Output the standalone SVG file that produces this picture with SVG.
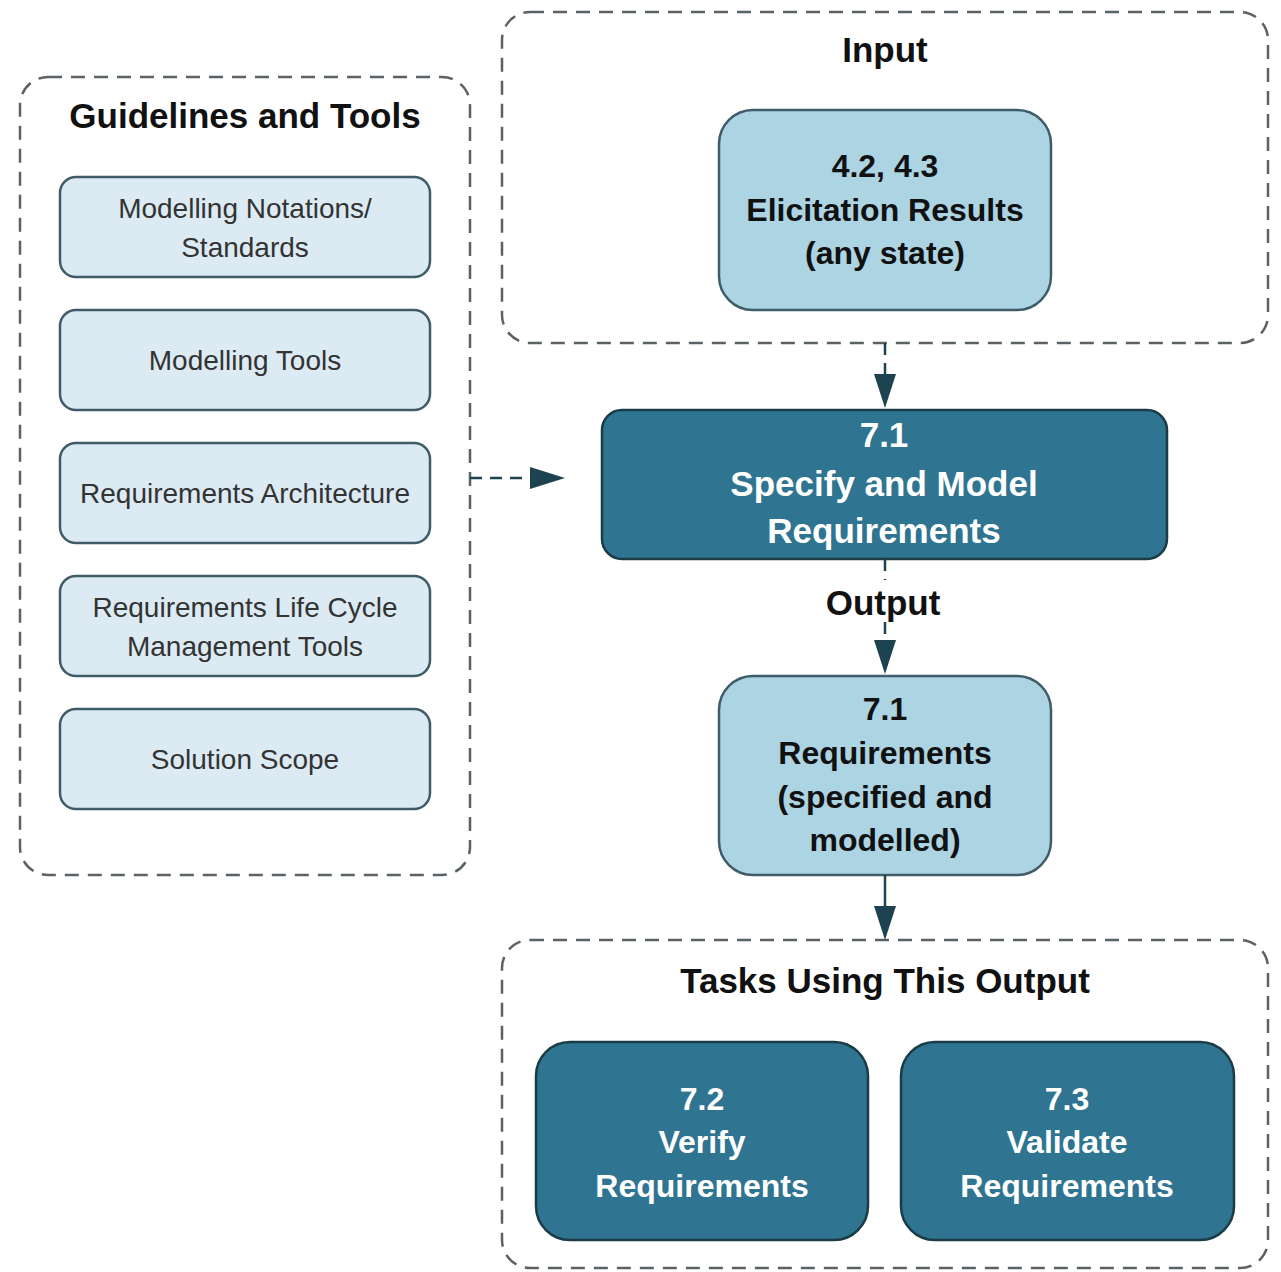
<svg xmlns="http://www.w3.org/2000/svg" width="1281" height="1272" viewBox="0 0 1281 1272">
<style>
.container{fill:none;stroke:#5a6266;stroke-width:2.5;stroke-dasharray:14 9}
.light{fill:#dcebf3;stroke:#3f5c68;stroke-width:2.5}
.mid{fill:#acd4e3;stroke:#3f5c68;stroke-width:2.5}
.dark{fill:#2f7591;stroke:#1b3c47;stroke-width:2.5}
.t{font-family:"Liberation Sans",Arial,sans-serif;text-anchor:middle}
.title{font-size:35px;font-weight:bold;fill:#111}
.reg{font-size:28px;fill:#333}
.bk{font-size:32px;font-weight:bold;fill:#111}
.wh{font-weight:bold;fill:#fff}
.conn{stroke:#1e4350;stroke-width:2.5;fill:none}
.dash{stroke-dasharray:12 8}
</style>
<defs>
<marker id="arr" markerWidth="10" markerHeight="10" refX="9" refY="5" orient="auto" markerUnits="userSpaceOnUse" viewBox="0 0 10 10">
<path d="M0,0 L10,5 L0,10 Z" fill="#1e4350"/>
</marker>
</defs>
<g id="guidelines">
<rect class="container" x="20" y="77" width="450" height="798" rx="28"/>
<text class="t title" x="245" y="128">Guidelines and Tools</text>
</g>
<g id="g1"><rect class="light" x="60" y="177" width="370" height="100" rx="16"/>
<text class="t reg" x="245" y="218">Modelling Notations/</text><text class="t reg" x="245" y="257">Standards</text></g>
<g id="g2"><rect class="light" x="60" y="310" width="370" height="100" rx="16"/>
<text class="t reg" x="245" y="370">Modelling Tools</text></g>
<g id="g3"><rect class="light" x="60" y="443" width="370" height="100" rx="16"/>
<text class="t reg" x="245" y="503">Requirements Architecture</text></g>
<g id="g4"><rect class="light" x="60" y="576" width="370" height="100" rx="16"/>
<text class="t reg" x="245" y="617">Requirements Life Cycle</text><text class="t reg" x="245" y="656">Management Tools</text></g>
<g id="g5"><rect class="light" x="60" y="709" width="370" height="100" rx="16"/>
<text class="t reg" x="245" y="769">Solution Scope</text></g>
<g id="input">
<rect class="container" x="502" y="12" width="766" height="331" rx="28"/>
<text class="t title" x="885" y="62">Input</text>
</g>
<g id="elicitation"><rect class="mid" x="719" y="110" width="332" height="200" rx="34"/>
<text class="t bk" x="885" y="177">4.2, 4.3</text>
<text class="t bk" x="885" y="221">Elicitation Results</text>
<text class="t bk" x="885" y="264">(any state)</text></g>
<g id="specify"><rect class="dark" x="602" y="410" width="565" height="149" rx="20"/>
<text class="t wh" style="font-size:35px" x="884" y="447">7.1</text>
<text class="t wh" style="font-size:35px" x="884" y="496">Specify and Model</text>
<text class="t wh" style="font-size:35px" x="884" y="543">Requirements</text></g>
<g id="outputlabel"><text class="t title" x="883" y="615">Output</text></g>
<g id="requirements"><rect class="mid" x="719" y="676" width="332" height="199" rx="34"/>
<text class="t bk" x="885" y="720">7.1</text>
<text class="t bk" x="885" y="764">Requirements</text>
<text class="t bk" x="885" y="808">(specified and</text>
<text class="t bk" x="885" y="851">modelled)</text></g>
<g id="tasks">
<rect class="container" x="502" y="940" width="766" height="328" rx="28"/>
<text class="t title" x="885" y="993">Tasks Using This Output</text>
</g>
<g id="verify"><rect class="dark" x="536" y="1042" width="332" height="198" rx="34"/>
<text class="t wh" style="font-size:32px" x="702" y="1110">7.2</text>
<text class="t wh" style="font-size:32px" x="702" y="1153">Verify</text>
<text class="t wh" style="font-size:32px" x="702" y="1197">Requirements</text></g>
<g id="validate"><rect class="dark" x="901" y="1042" width="333" height="198" rx="34"/>
<text class="t wh" style="font-size:32px" x="1067" y="1110">7.3</text>
<text class="t wh" style="font-size:32px" x="1067" y="1153">Validate</text>
<text class="t wh" style="font-size:32px" x="1067" y="1197">Requirements</text></g>
<g id="connectors">
<line class="conn dash" x1="885" y1="343" x2="885" y2="376"/>
<path d="M874,374 L896,374 L885,408 Z" fill="#1e4350"/>
<line class="conn dash" x1="470" y1="478" x2="530" y2="478"/>
<path d="M530,467 L565,478 L530,489 Z" fill="#1e4350"/>
<line class="conn dash" x1="885" y1="559" x2="885" y2="580"/>
<line class="conn dash" x1="885" y1="622" x2="885" y2="642"/>
<path d="M874,640 L896,640 L885,674 Z" fill="#1e4350"/>
<line class="conn" x1="885" y1="875" x2="885" y2="908"/>
<path d="M874,906 L896,906 L885,940 Z" fill="#1e4350"/>
</g>
</svg>
